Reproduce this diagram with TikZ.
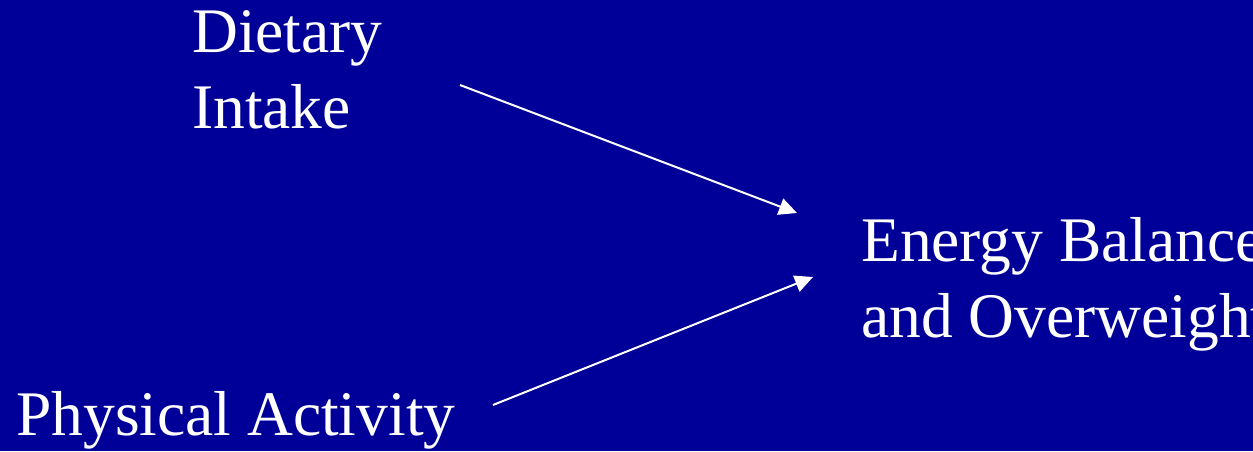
\documentclass[tikz,border=0pt]{standalone}
\usepackage{fontspec}
\setmainfont{Liberation Serif}
\usetikzlibrary{arrows.meta}
\definecolor{bg}{RGB}{0,0,153}
\tikzset{
  lbl/.style={text=white, inner sep=0pt, anchor=base west, align=left,
    font=\fontsize{63.5}{76}\selectfont},
  arr/.style={draw=white, line width=2pt, -{Triangle[length=18pt,width=17pt]}}
}
\begin{document}
\begin{tikzpicture}[x=1pt,y=-1pt]
\useasboundingbox (0,0) rectangle (1253,451);
\fill[bg] (0,0) rectangle (1253,451);
\clip (0,0) rectangle (1253,451);
\node[lbl] (di) at (192,128.7) {Dietary\\Intake};
\node[lbl] (pa) at (16,435) {Physical Activity};
\node[lbl] (eb) at (861,337) {Energy Balance\\and Overweight};
\coordinate (s1) at (460,85);
\coordinate (t1) at (797,213);
\coordinate (s2) at (493,405);
\coordinate (t2) at (813,277);
\draw[arr] (s1) -- (t1);
\draw[arr] (s2) -- (t2);
\end{tikzpicture}
\end{document}
